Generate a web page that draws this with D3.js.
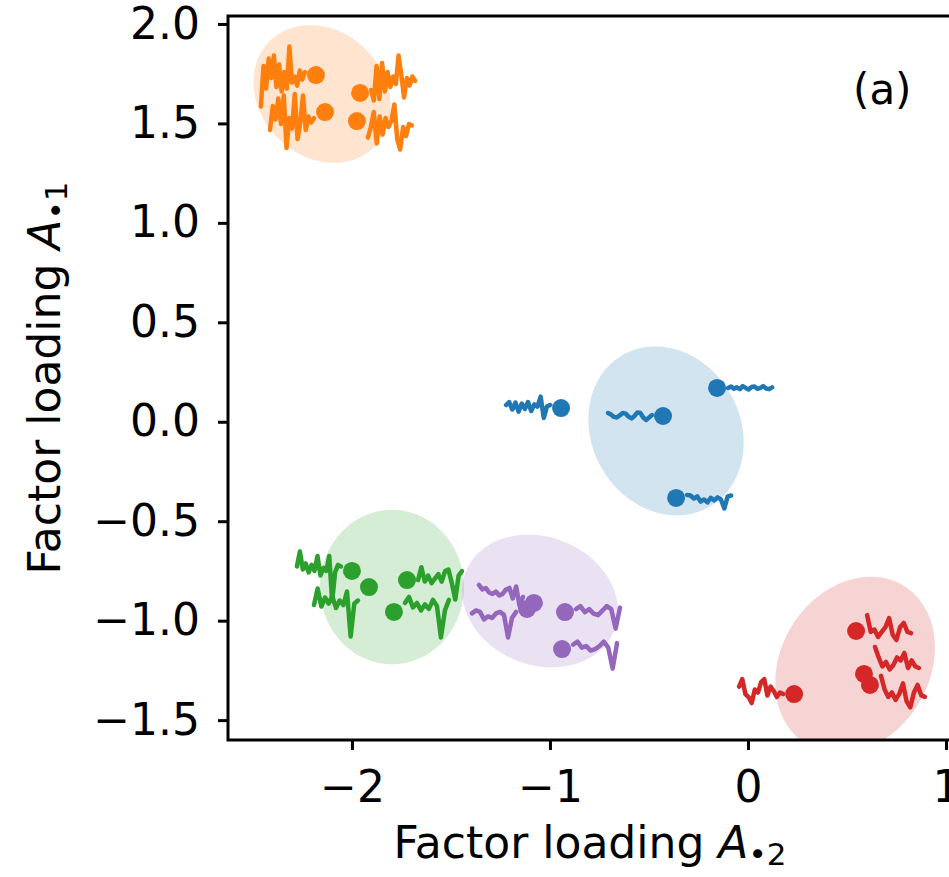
<!DOCTYPE html>
<html>
<head>
<meta charset="utf-8">
<script src="https://cdn.jsdelivr.net/npm/d3@7"></script>
<style>
  body { margin: 0; background: #fff; }
  svg { display: block; font-family: "DejaVu Sans", sans-serif; }
</style>
</head>
<body>
<div id="chart"></div>
<script>
// --- Data (factor loadings per cluster) ---
const clusterNames = ["orange", "blue", "green", "purple", "red"];
const clusterColors = ["#ff7f0e", "#1f77b4", "#2ca02c", "#9467bd", "#d62728"];

const orangeX = [-2.182, -1.959, -2.136, -1.975];
const orangeY = [1.743, 1.653, 1.557, 1.512];
const blueX = [-0.944, -0.429, -0.156, -0.363];
const blueY = [0.069, 0.029, 0.170, -0.383];
const greenX = [-2.0, -1.914, -1.722, -1.788];
const greenY = [-0.750, -0.831, -0.796, -0.956];
const purpleX = [-1.081, -1.116, -0.924, -0.939];
const purpleY = [-0.911, -0.941, -0.957, -1.143];
const redX = [0.233, 0.546, 0.586, 0.616];
const redY = [-1.369, -1.052, -1.268, -1.323];

// which side of the dot the little series is drawn on
const orangeSide = ["L", "R", "L", "R"];
const blueSide = ["L", "L", "R", "R"];
const greenSide = ["L", "L", "R", "R"];
const purpleSide = ["L", "L", "R", "R"];
const redSide = ["L", "R", "R", "R"];

// small time series shown next to each dot
const orangeSeries = [
  [-1.05, 0.3, -0.45, 0.55, -0.1, 0.65, -0.4, 0.35, -0.55, 0.1, -0.45, 0.95, -0.25, -0.05, -0.35, 0.15, -0.15, 0.1],
  [0.1, -0.25, 0.9, -0.2, 1.0, 0.05, 0.7, 0.2, 0.55, 0.3, 1.25, 0.6, -0.15, 0.5, 0.25, 0.55, 0.4],
  [-0.6, 0.2, -0.25, 0.45, -0.4, 0.55, -1.2, -0.2, -0.55, 0.6, -0.9, -0.35, 0.55, -0.6, -0.15, -0.35, -0.2],
  [-0.55, -0.2, 0.3, -0.75, 0.15, -0.45, 0.1, -0.2, 0.0, 0.55, -0.6, -0.95, -0.2, -0.5, -0.1, -0.15]
];
const blueSeries = [
  [0.1, 0.2, -0.05, 0.18, -0.12, 0.15, -0.03, 0.2, -0.1, 0.12, 0.05, 0.38, -0.33, 0.05, 0.1],
  [0.1, 0.05, -0.03, -0.05, 0.02, 0.1, 0.08, -0.02, -0.08, 0.0, 0.12, 0.1, -0.05, -0.13, -0.05, 0.03],
  [0.0, 0.05, -0.03, 0.02, -0.04, 0.06, 0.0, -0.05, 0.03, 0.05, -0.03, 0.0, 0.06, -0.02, -0.04, 0.02],
  [0.1, 0.08, -0.02, 0.05, -0.12, -0.05, -0.15, 0.0, -0.08, 0.02, -0.05, -0.35, 0.05, 0.08]
];
const greenSeries = [
  [0.15, 0.65, 0.05, 0.25, -0.05, 0.2, 0.0, 0.5, -0.15, 0.1, 0.0, 0.5, -1.0, -0.05, 0.2, 0.15],
  [-0.6, -0.05, -0.65, -0.35, -0.55, -0.3, -0.7, -0.45, -0.6, -0.15, -1.65, -0.55, -0.45],
  [0.0, 0.43, -0.05, 0.15, -0.1, 0.05, 0.2, -0.05, 0.3, 0.35, -0.1, -0.65, 0.15, 0.3],
  [0.3, 0.5, 0.15, 0.3, 0.05, 0.25, 0.1, 0.4, 0.2, -0.85, 0.05, 0.4]
];
const purpleSeries = [
  [0.6, 0.45, 0.5, 0.35, 0.3, 0.38, 0.25, 0.3, 0.45, 0.5, 0.15, 0.55, -0.1, 0.2],
  [-0.15, -0.05, -0.1, -0.35, -0.25, -0.3, -0.15, -0.1, -0.2, -0.95, -0.3, -0.1],
  [0.1, 0.2, 0.0, 0.1, -0.05, -0.1, 0.05, 0.2, 0.1, -0.55, 0.15],
  [0.15, 0.25, 0.05, 0.1, -0.05, 0.0, 0.1, 0.25, 0.05, -0.65, 0.2]
];
const redSeries = [
  [0.25, 0.5, 0.0, -0.1, -0.3, 0.15, 0.05, 0.4, 0.5, -0.05, 0.25, 0.1, -0.1, 0.05, 0.0],
  [0.53, -0.03, 0.05, -0.2, -0.03, 0.13, 0.43, -0.13, -0.3, 0.13, 0.27, -0.03, -0.07],
  [0.9, 0.55, 0.25, 0.4, 0.15, 0.3, 0.55, 0.45, 0.7, 0.2, 0.45, 0.25, 0.2],
  [0.3, -0.15, -0.4, -0.25, -0.5, -0.3, 0.05, -0.55, -0.75, -0.25, 0.0, -0.35, -0.4]
];

// cluster ellipses: centre, semi-axes (data units), rotation in degrees
const ellipseCX = [-2.151, -0.414, -1.798, -1.050, 0.541];
const ellipseCY = [1.648, -0.046, -0.831, -0.901, -1.223];
const ellipseA = [0.375, 0.44, 0.388, 0.403, 0.468];
const ellipseB = [0.315, 0.375, 0.363, 0.322, 0.375];
const ellipseAngle = [-45, -60, 90, -21, 58];

const xTicks = [-2, -1, 0, 1];
const yTicks = [-1.5, -1.0, -0.5, 0.0, 0.5, 1.0, 1.5, 2.0];

// --- Layout ---
const width = 949, height = 877;
const plot = { left: 228, right: 964, top: 16, bottom: 740 };

const x = d3.scaleLinear().domain([-2.626, 1.091]).range([plot.left, plot.right]);
const y = d3.scaleLinear().domain([-1.6, 2.04]).range([plot.bottom, plot.top]);

const svg = d3.select("#chart").append("svg")
    .attr("width", width)
    .attr("height", height);

svg.append("clipPath").attr("id", "plot-clip")
  .append("rect")
    .attr("x", plot.left).attr("y", plot.top)
    .attr("width", plot.right - plot.left).attr("height", plot.bottom - plot.top);

const clusters = clusterNames.map((name, k) => ({
    name,
    color: clusterColors[k],
    xs: [orangeX, blueX, greenX, purpleX, redX][k],
    ys: [orangeY, blueY, greenY, purpleY, redY][k],
    side: [orangeSide, blueSide, greenSide, purpleSide, redSide][k],
    series: [orangeSeries, blueSeries, greenSeries, purpleSeries, redSeries][k],
    ell: { cx: ellipseCX[k], cy: ellipseCY[k], a: ellipseA[k], b: ellipseB[k], angle: ellipseAngle[k] }
}));

const body = svg.append("g").attr("clip-path", "url(#plot-clip)");

// --- Ellipses ---
const ellLine = d3.line().x(p => x(p[0])).y(p => y(p[1])).curve(d3.curveLinearClosed);
function ellipsePoints(e) {
    const th = e.angle * Math.PI / 180;
    return d3.range(0, 2 * Math.PI, Math.PI / 90).map(t => [
        e.cx + e.a * Math.cos(th) * Math.cos(t) - e.b * Math.sin(th) * Math.sin(t),
        e.cy + e.a * Math.sin(th) * Math.cos(t) + e.b * Math.cos(th) * Math.sin(t)
    ]);
}

body.append("g").selectAll("path")
    .data(clusters)
    .enter()
    .append("path")
    .attr("d", c => ellLine(ellipsePoints(c.ell)))
    .attr("fill", c => c.color)
    .attr("fill-opacity", 0.2);

// --- Sparklines next to dots ---
const sparkW = 44, sparkGap = 11, sparkHalf = 30;
clusters.forEach(c => {
    c.xs.forEach((vx, i) => {
        const px = x(vx), py = y(c.ys[i]);
        const vals = c.series[i];
        const sx = d3.scaleLinear().domain([0, vals.length - 1])
            .range(c.side[i] === "L" ? [px - sparkGap - sparkW, px - sparkGap] : [px + sparkGap, px + sparkGap + sparkW]);
        const sy = d3.scaleLinear().domain([-1, 1]).range([py + sparkHalf, py - sparkHalf]);
        body.append("path")
            .datum(vals)
            .attr("d", d3.line().x((v, j) => sx(j)).y(v => sy(v)))
            .attr("fill", "none")
            .attr("stroke", c.color)
            .attr("stroke-width", 4.5)
            .attr("stroke-linejoin", "round")
            .attr("stroke-linecap", "round");
    });
});

// --- Dots ---
clusters.forEach(c => {
    body.append("g").selectAll("circle")
        .data(c.xs.map((vx, i) => [vx, c.ys[i]]))
        .enter()
        .append("circle")
        .attr("cx", d => x(d[0]))
        .attr("cy", d => y(d[1]))
        .attr("r", 9)
        .attr("fill", c.color);
});

// --- Axes ---
const fontSize = 44;
const xAxis = svg.append("g")
    .attr("transform", `translate(0,${plot.bottom})`)
    .call(d3.axisBottom(x).tickValues(xTicks).tickFormat(d3.format("d")).tickSize(10).tickPadding(21).tickSizeOuter(0));
const yAxis = svg.append("g")
    .attr("transform", `translate(${plot.left},0)`)
    .call(d3.axisLeft(y).tickValues(yTicks).tickFormat(d3.format(".1f")).tickSize(10).tickPadding(18).tickSizeOuter(0));

[xAxis, yAxis].forEach(ax => {
    ax.select(".domain").remove();
    ax.selectAll(".tick line").attr("stroke", "#000").attr("stroke-width", 3);
    ax.selectAll(".tick text")
        .attr("fill", "#000")
        .style("font-size", fontSize + "px")
        .style("font-family", "'DejaVu Sans', sans-serif");
});

// spines (the right one falls just outside the picture)
svg.append("rect")
    .attr("x", plot.left).attr("y", plot.top)
    .attr("width", plot.right - plot.left).attr("height", plot.bottom - plot.top)
    .attr("fill", "none")
    .attr("stroke", "#000")
    .attr("stroke-width", 3);

// --- Labels ---
const xLabel = svg.append("text")
    .attr("x", (plot.left + plot.right) / 2 - 6)
    .attr("y", 858)
    .attr("text-anchor", "middle")
    .style("font-size", fontSize + "px");
xLabel.append("tspan").text("Factor loading ");
xLabel.append("tspan").style("font-style", "italic").text("A");
xLabel.append("tspan").attr("baseline-shift", "-22%").style("font-size", "31px").text("\u20222");

const yLabel = svg.append("text")
    .attr("transform", `translate(60,${(plot.top + plot.bottom) / 2}) rotate(-90)`)
    .attr("text-anchor", "middle")
    .style("font-size", fontSize + "px");
yLabel.append("tspan").text("Factor loading ");
yLabel.append("tspan").style("font-style", "italic").text("A");
yLabel.append("tspan").attr("baseline-shift", "-22%").style("font-size", "31px").text("\u20221");

svg.append("text")
    .attr("x", 853)
    .attr("y", 104)
    .style("font-size", "42px")
    .text("(a)");
</script>
</body>
</html>
